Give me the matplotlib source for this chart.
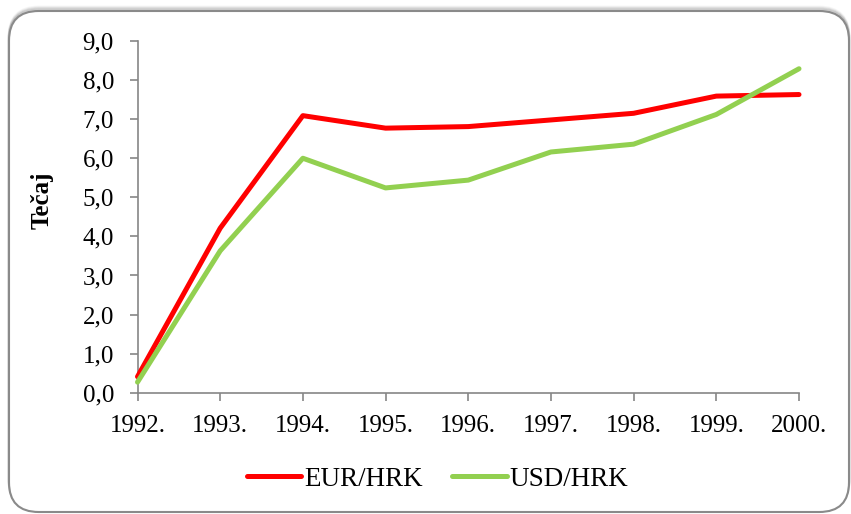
import matplotlib
matplotlib.use("Agg")
import matplotlib.pyplot as plt
from matplotlib.patches import FancyBboxPatch

years = ["1992.", "1993.", "1994.", "1995.", "1996.", "1997.", "1998.", "1999.", "2000."]
eur_hrk = [0.41, 4.21, 7.09, 6.77, 6.81, 6.98, 7.15, 7.59, 7.63]
usd_hrk = [0.27, 3.63, 6.00, 5.24, 5.44, 6.16, 6.36, 7.12, 8.29]
y_ticks = [0, 1, 2, 3, 4, 5, 6, 7, 8, 9]
y_label = "Tečaj"

W, H = 851, 514
fig = plt.figure(figsize=(W / 100, H / 100), dpi=100)
fig.patch.set_facecolor("white")
plt.rcParams["font.family"] = ["Liberation Serif", "DejaVu Serif"]

def fx(px):
    return px / W

def fy(py):
    return 1 - py / H

# rounded frame with soft shadow at the top
for i, a in enumerate([0.04, 0.06, 0.08, 0.10]):
    off = 4 - i
    sh = FancyBboxPatch((fx(9), fy(512) + off / H), fx(840), (512 - 11) / H,
                        boxstyle="round,pad=0,rounding_size=0.035",
                        transform=fig.transFigure, facecolor="none",
                        edgecolor=(0, 0, 0, a), linewidth=2.0, mutation_aspect=W / H,
                        zorder=-12)
    fig.patches.append(sh)
frame = FancyBboxPatch((fx(9), fy(512)), fx(840), (512 - 11) / H,
                       boxstyle="round,pad=0,rounding_size=0.035",
                       transform=fig.transFigure, facecolor="white",
                       edgecolor="#8a8a8a", linewidth=1.5, mutation_aspect=W / H,
                       zorder=-10)
fig.patches.append(frame)

ax = fig.add_axes([fx(137.5), fy(392.7), (799 - 137.5) / W, (392.7 - 41) / H])
ax.set_zorder(5)
ax.set_facecolor("none")
x = list(range(len(years)))
ax.plot(x, eur_hrk, color="#FF0000", lw=3.6, label="EUR/HRK",
        solid_capstyle="round", solid_joinstyle="round", clip_on=False, zorder=3)
ax.plot(x, usd_hrk, color="#92D050", lw=3.6, label="USD/HRK",
        solid_capstyle="round", solid_joinstyle="round", clip_on=False, zorder=3)

ax.set_xlim(0, len(years) - 1)
ax.set_ylim(0, 9)
ax.set_xticks(x)
ax.set_xticklabels(years)
ax.set_yticks(y_ticks)
ax.set_yticklabels([f"{v:.1f}".replace(".", ",") for v in y_ticks])

for s in ["top", "right"]:
    ax.spines[s].set_visible(False)
for s in ["left", "bottom"]:
    ax.spines[s].set_color("#868686")
    ax.spines[s].set_linewidth(1.2)
ax.tick_params(axis="both", which="major", direction="out", length=6, width=1.2,
               color="#868686", labelsize=18, labelcolor="black")
ax.tick_params(axis="y", pad=11)
ax.tick_params(axis="x", pad=10)

fig.text(fx(42), fy(200), y_label, rotation=90, ha="center", va="center",
         fontsize=18, fontweight="bold", zorder=6)

leg = fig.legend(loc="center", bbox_to_anchor=(fx(437.5), fy(479)), ncol=2, frameon=False,
                 fontsize=19.5, handlelength=2.0, handletextpad=0.1, columnspacing=1.1)
leg.set_zorder(6)

fig.savefig("out.png", dpi=100)
